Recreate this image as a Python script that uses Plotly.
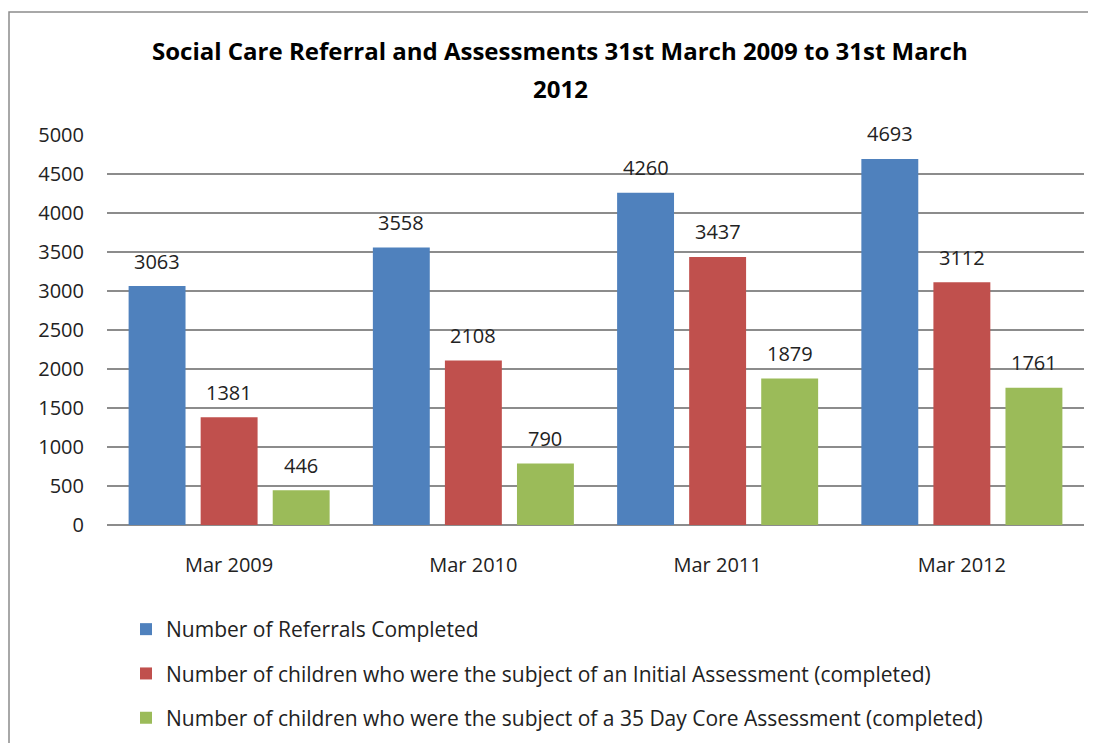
import plotly.graph_objects as go

categories = ["Mar 2009", "Mar 2010", "Mar 2011", "Mar 2012"]
series_names = [
    "Number of Referrals Completed",
    "Number of children who were the subject of an Initial Assessment (completed)",
    "Number of children who were the subject of a 35 Day Core Assessment (completed)",
]
referrals = [3063, 3558, 4260, 4693]
initial = [1381, 2108, 3437, 3112]
core35 = [446, 790, 1879, 1761]
y_ticks = [0, 500, 1000, 1500, 2000, 2500, 3000, 3500, 4000, 4500, 5000]
title_lines = ["Social Care Referral and Assessments 31st March 2009 to 31st March", "2012"]

colors = ["#4F81BD", "#C0504D", "#9BBB59"]
series_values = [referrals, initial, core35]

# page body has an 8px margin; work in reference coordinates and subtract it
off = 8
W, H = 1096 - off, 743 - off
ml, mt = 107 - off, 135 - off
plot_right, plot_bottom = 1084 - off, 525 - off
mr, mb = W - plot_right, H - plot_bottom
pw, ph = W - ml - mr, H - mt - mb
bargap = 0.115
bargroupgap = 0.21

def px_x(x_ref):
    return (x_ref - off - ml) / pw

def px_y(y_ref):
    return (plot_bottom - (y_ref - off)) / ph

fig = go.Figure()
for i, (name, vals) in enumerate(zip(series_names, series_values)):
    fig.add_trace(go.Bar(
        x=categories, y=vals, name=name,
        marker=dict(color=colors[i], line=dict(width=0)),
        legendgroup=str(i),
        hoverinfo="skip",
    ))

# data labels
cat_w = pw / len(categories)
slot = (1 - bargap) * cat_w / 3
annotations = []
for i, vals in enumerate(series_values):
    for c, v in zip(categories, vals):
        annotations.append(dict(
            x=c, y=v, xref="x", yref="y", text=str(v), showarrow=False,
            xshift=(i - 1) * slot, yshift=25, yanchor="middle",
            font=dict(family="Open Sans", size=20, color="#222222"),
        ))

# title lines
for k, line in enumerate(title_lines):
    annotations.append(dict(
        x=px_x(560), y=px_y(50 + 38 * k), xref="paper", yref="paper",
        text="<b>" + line + "</b>", showarrow=False, xanchor="center", yanchor="middle",
        font=dict(family="Open Sans", size=24, color="#000000"),
    ))

fig.update_layout(
    width=W, height=H,
    margin=dict(l=ml, r=mr, t=mt, b=mb, autoexpand=False),
    paper_bgcolor="white", plot_bgcolor="white",
    barmode="group", bargap=bargap, bargroupgap=bargroupgap,
    font=dict(family="Open Sans", size=20, color="#222222"),
    showlegend=True,
    legend=dict(
        xref="container", yref="container",
        x=(126 - off) / W, y=1 - (609 - off) / H, xanchor="left", yanchor="top",
        orientation="v", tracegroupgap=14,
        font=dict(family="Open Sans", size=21, color="#222222"),
        bgcolor="rgba(0,0,0,0)",
    ),
    annotations=annotations,
    shapes=[dict(
        type="rect", xref="paper", yref="paper",
        x0=px_x(9), x1=px_x(1096 + 20),
        y0=px_y(743 + 20), y1=px_y(12),
        line=dict(color="#8C8C8C", width=1.5), fillcolor="rgba(0,0,0,0)", layer="below",
    )],
)
fig.update_xaxes(
    showgrid=False, showline=False, ticks="", ticklabelstandoff=26,
    tickfont=dict(family="Open Sans", size=20, color="#222222"),
)
fig.update_yaxes(
    range=[0, 5000], tickvals=y_ticks, showgrid=True, gridcolor="#8C8C8C", gridwidth=1.5,
    zeroline=True, zerolinecolor="#8C8C8C", zerolinewidth=1.5, showline=False,
    ticks="", ticklabelstandoff=22,
    tickfont=dict(family="Open Sans", size=20, color="#222222"),
)

fig.write_html("out.html")
